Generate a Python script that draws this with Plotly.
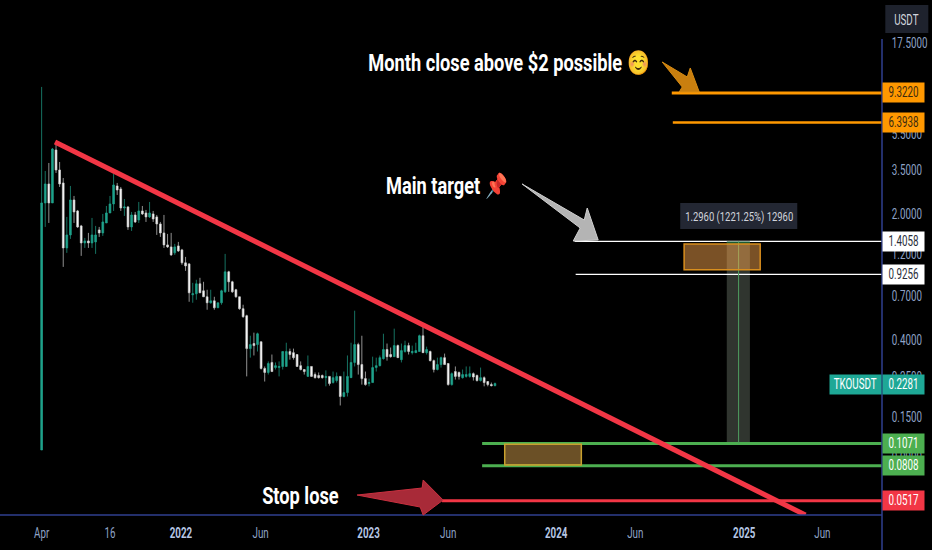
import math
import pandas as pd
import plotly.graph_objects as go

# weekly TKOUSDT candles
candle_dates = pd.date_range("2021-04-05", periods=127, freq="7D")
candle_open = [0.0987, 2.297, 2.925, 2.297, 4.51, 3.496, 2.963, 1.295, 1.528, 2.386, 2.074, 1.714, 1.38, 1.416, 1.38, 1.398, 1.629, 1.568, 1.78, 2.022, 2.268, 2.852, 2.745, 2.155, 2.182, 1.692, 1.971, 1.85, 2.074, 2.022, 1.922, 1.997, 1.922, 1.758, 1.568, 1.346, 1.312, 1.216, 1.329, 1.263, 1.071, 1.057, 0.713, 0.722, 0.82, 0.75, 0.695, 0.644, 0.66, 0.604, 0.644, 0.74, 0.955, 0.841, 0.76, 0.695, 0.597,
               0.546, 0.359, 0.383, 0.378, 0.392, 0.279, 0.265, 0.301, 0.282, 0.282, 0.286, 0.286, 0.346, 0.341, 0.333, 0.289, 0.275, 0.252, 0.286, 0.258, 0.255, 0.255, 0.248, 0.252, 0.233, 0.239, 0.252, 0.195, 0.205, 0.248, 0.301, 0.378, 0.293, 0.245, 0.23, 0.233, 0.282, 0.289, 0.316, 0.355, 0.333, 0.324, 0.373, 0.312, 0.346, 0.373, 0.341, 0.341, 0.346, 0.423, 0.341, 0.346, 0.308, 0.275, 0.293, 0.32, 0.297, 0.227, 0.268, 0.265, 0.248, 0.252, 0.252, 0.261, 0.255, 0.239, 0.248, 0.236, 0.227, 0.224]
candle_high = [10.07, 3.452, 3.822, 4.627, 4.807, 3.871, 3.157, 1.922, 2.852, 2.511, 2.101, 1.736, 1.471, 1.568, 1.897, 1.714, 1.692, 1.997, 2.21, 2.511, 3.322, 2.963, 2.815, 2.416, 2.21, 2.048, 2.048, 2.326, 2.21, 2.101, 2.326, 2.074, 1.971, 1.803, 1.971, 1.548, 1.568, 1.363, 1.398, 1.279, 1.155, 1.057, 0.83, 0.863, 0.885, 0.841, 0.76, 0.76, 0.695, 0.644, 0.76, 1.2, 0.967, 0.852, 0.769, 0.695, 0.628,
               0.553, 0.423, 0.44, 0.44, 0.392, 0.286, 0.305, 0.333, 0.301, 0.305, 0.346, 0.387, 0.359, 0.359, 0.333, 0.305, 0.275, 0.329, 0.286, 0.265, 0.265, 0.258, 0.272, 0.252, 0.268, 0.265, 0.252, 0.268, 0.329, 0.387, 0.582, 0.387, 0.423, 0.268, 0.245, 0.324, 0.32, 0.329, 0.434, 0.383, 0.364, 0.463, 0.378, 0.383, 0.397, 0.387, 0.373, 0.387, 0.429, 0.475, 0.368, 0.35, 0.312, 0.32, 0.324, 0.337, 0.297, 0.265, 0.286, 0.268, 0.275, 0.286, 0.286, 0.265, 0.258, 0.282, 0.252, 0.236, 0.233, 0.233]
candle_low = [0.0987, 1.692, 1.78, 2.297, 3.365, 2.815, 1.017, 1.216, 1.453, 1.78, 1.671, 1.17, 1.295, 1.295, 1.295, 1.2, 1.49, 1.509, 1.78, 2.022, 2.074, 2.543, 2.074, 1.946, 1.629, 1.608, 1.78, 1.78, 1.971, 1.803, 1.897, 1.803, 1.528, 1.49, 1.295, 1.295, 1.17, 1.185, 1.231, 1.044, 0.967, 0.652, 0.644, 0.669, 0.731, 0.695, 0.589, 0.636, 0.589, 0.604, 0.628, 0.731, 0.74, 0.731, 0.686, 0.589, 0.532,
              0.252, 0.32, 0.329, 0.346, 0.275, 0.236, 0.258, 0.268, 0.275, 0.252, 0.275, 0.286, 0.312, 0.312, 0.286, 0.272, 0.258, 0.252, 0.252, 0.245, 0.245, 0.245, 0.222, 0.224, 0.23, 0.233, 0.174, 0.193, 0.195, 0.248, 0.286, 0.258, 0.227, 0.224, 0.222, 0.233, 0.268, 0.286, 0.312, 0.308, 0.32, 0.324, 0.32, 0.301, 0.341, 0.333, 0.333, 0.341, 0.346, 0.341, 0.333, 0.305, 0.265, 0.272, 0.282, 0.293, 0.224, 0.224, 0.242, 0.242, 0.245, 0.248, 0.248, 0.239, 0.236, 0.236, 0.222, 0.222, 0.222, 0.222]
candle_close = [2.297, 2.925, 2.297, 4.568, 3.496, 2.925, 1.295, 1.528, 2.386, 2.048, 1.692, 1.38, 1.416, 1.38, 1.528, 1.528, 1.568, 1.803, 2.022, 2.268, 2.888, 2.71, 2.155, 2.182, 1.692, 1.971, 1.803, 2.074, 1.997, 1.922, 2.022, 1.873, 1.758, 1.568, 1.346, 1.312, 1.185, 1.312, 1.247, 1.071, 1.03, 0.731, 0.722, 0.82, 0.731, 0.695, 0.644, 0.66, 0.604, 0.644, 0.75, 0.955, 0.841, 0.74, 0.695, 0.597, 0.539,
                0.359, 0.378, 0.373, 0.434, 0.279, 0.265, 0.297, 0.268, 0.289, 0.286, 0.346, 0.346, 0.333, 0.32, 0.286, 0.275, 0.268, 0.286, 0.252, 0.248, 0.248, 0.248, 0.252, 0.23, 0.248, 0.252, 0.195, 0.205, 0.252, 0.301, 0.378, 0.293, 0.245, 0.227, 0.233, 0.282, 0.289, 0.32, 0.355, 0.324, 0.324, 0.373, 0.32, 0.35, 0.373, 0.346, 0.346, 0.35, 0.423, 0.341, 0.355, 0.308, 0.275, 0.293, 0.32, 0.293, 0.227, 0.261, 0.252, 0.252, 0.258, 0.258, 0.261, 0.25, 0.239, 0.248, 0.233, 0.227, 0.224, 0.23]

x_tick_dates = ["2021-04-05", "2021-08-16", "2022-01-01", "2022-06-05", "2023-01-01", "2023-06-05", "2024-01-01", "2024-06-03", "2025-01-01", "2025-06-02"]
x_tick_names = ["Apr", "16", "2022", "Jun", "2023", "Jun", "2024", "Jun", "2025", "Jun"]
y_tick_prices = [17.5, 5.5, 3.5, 2.0, 1.2, 0.7, 0.4, 0.25, 0.15, 0.09]

level_prices = [9.322, 6.3938, 1.4058, 0.9256, 0.1071, 0.0808, 0.0517]
level_starts = ["2024-08-13", "2024-08-15", "2024-02-06", "2024-02-08", "2023-08-10", "2023-08-10", "2023-05-24"]
level_colors = ["#ff9800", "#ff9800", "#ffffff", "#ffffff", "#4caf50", "#4caf50", "#f23645"]
level_widths = [3, 2.5, 1.2, 1.2, 3, 3, 3]
level_text_colors = ["#3a2a10", "#3a2a10", "#2a2e39", "#2a2e39", "#ffffff", "#ffffff", "#ffffff"]

trend_dates = ["2021-05-01", "2025-04-30"]
trend_prices = [4.994, 0.0431]
last_price = 0.2281

RIGHT_EDGE = "2025-09-26"
BLUE_LINE = "#2f3f8f"
FONT = "Roboto"
PLOT_W = 881.7
PLOT_H = 515.0

# no page margin, and the screenshot's text is squeezed sideways
SQUEEZE_JS = """
document.body.style.margin = '0';
document.body.style.background = '#000';
document.querySelectorAll('.xtick text, .ytick text, .annotation-text').forEach(function (t) {
    var squeeze = parseFloat(t.style.fontSize) >= 20 ? 0.76 : 0.7;
    var x = parseFloat(t.getAttribute('x')) || 0;
    var old = t.getAttribute('transform') || '';
    t.removeAttribute('clip-path');
    t.setAttribute('transform', old + ' translate(' + x + ' 0) scale(' + squeeze + ' 1) translate(' + (-x) + ' 0)');
});
"""


def px_x(px):
    return px / PLOT_W


def px_y(py):
    return 1 - py / PLOT_H


def polygon(points, fill, edge):
    # arrows are drawn by hand, in page pixels
    path = "M " + " L ".join(f"{px_x(a):.4f},{px_y(b):.4f}" for a, b in points) + " Z"
    return dict(type="path", xref="paper", yref="paper", path=path, fillcolor=fill,
                line=dict(color=edge, width=1))


fig = go.Figure()

for price, start, color, width in zip(level_prices, level_starts, level_colors, level_widths):
    fig.add_trace(go.Scatter(x=[start, RIGHT_EDGE], y=[price, price], mode="lines",
                             line=dict(color=color, width=width), hoverinfo="skip"))

fig.add_trace(go.Scatter(x=trend_dates, y=trend_prices, mode="lines",
                         line=dict(color="#f23645", width=5), hoverinfo="skip"))

fig.add_trace(go.Candlestick(x=candle_dates, open=candle_open, high=candle_high, low=candle_low, close=candle_close,
                             whiskerwidth=0,
                             increasing=dict(line=dict(color="#1fa38c", width=0.7), fillcolor="#1fa38c"),
                             decreasing=dict(line=dict(color="#d0d0d0", width=0.7), fillcolor="#ffffff")))

shapes = [
    # measure band with its centre line
    dict(type="rect", x0="2024-11-28", x1="2025-01-12", y0=0.1071, y1=1.4058, fillcolor="#30352f", line_width=0, layer="below"),
    dict(type="rect", x0="2024-11-28", x1="2025-01-12", y0=1.363, y1=1.4058, fillcolor="#1a5a33", line_width=0),
    dict(type="line", x0="2024-12-21", x1="2024-12-21", y0=0.1071, y1=1.4058, line=dict(color="#4f9e5f", width=1)),
    # target and entry boxes
    dict(type="rect", x0="2024-09-06", x1="2025-02-01", y0=0.979, y1=1.363, fillcolor="rgba(255,170,80,0.48)",
         line=dict(color="#d98f1e", width=1.5)),
    dict(type="rect", x0="2023-09-23", x1="2024-02-19", y0=0.0816, y1=0.1060, fillcolor="rgba(255,190,90,0.42)",
         line=dict(color="#c9a12e", width=1.5)),
    # axis frame
    dict(type="line", xref="paper", yref="paper", x0=0, x1=1, y0=0, y1=0, line=dict(color=BLUE_LINE, width=1.5)),
    dict(type="line", xref="paper", yref="paper", x0=1, x1=1, y0=px_y(39), y1=px_y(550), line=dict(color=BLUE_LINE, width=1.5)),
    # USDT button and the measure label
    dict(type="rect", xref="paper", yref="paper", x0=px_x(885), x1=px_x(928), y0=px_y(5), y1=px_y(33), fillcolor="#1e222d", line_width=0),
    dict(type="rect", xref="paper", yref="paper", x0=px_x(680), x1=px_x(797), y0=px_y(203), y1=px_y(229), fillcolor="#232733", line_width=0),
    polygon([(662, 62), (687, 77), (690, 68), (699, 92), (679, 92), (682, 87)], "#c97f0f", "#d98c12"),
    polygon([(522, 184), (584, 220), (587, 208), (598, 240), (573, 241), (580, 228)], "#b4b4b4", "#d0d0d0"),
    polygon([(357, 495), (422, 488), (423, 480), (443, 500), (423, 515), (420, 507)], "#a82a38", "#c9303f"),
]

annotations = []


def page_text(px, py, text, size, color="#ffffff", bold=False):
    annotations.append(dict(xref="paper", yref="paper", x=px_x(px), y=px_y(py), xanchor="center", yanchor="middle",
                            text=f"<b>{text}</b>" if bold else text, showarrow=False,
                            font=dict(family=FONT, size=size, color=color)))


def price_label(price, text, fill, text_color, box_width=41, anchor="left"):
    annotations.append(dict(xref="paper", yref="y", x=1, y=math.log10(price), xanchor=anchor, yanchor="middle",
                            text=text, showarrow=False, bgcolor=fill, width=box_width, height=19, borderpad=0,
                            font=dict(family=FONT, size=14, color=text_color)))


for price, color, text_color in zip(level_prices, level_colors, level_text_colors):
    price_label(price, f"{price:.4f}", color, text_color)

price_label(last_price, f"{last_price:.4f}", "#1ea896", "#ffffff")
price_label(last_price, "TKOUSDT", "#1ea896", "#ffffff", box_width=51, anchor="right")

page_text(906.5, 19.5, "USDT", 14, color="#d1d4dc")
page_text(739, 216, "1.2960 (1221.25%) 12960", 13.5, color="#d1d4dc")
page_text(509, 63, "Month close above $2 possible ☺️", 24, bold=True)
page_text(447, 185, "Main target 📌", 24, bold=True)
page_text(300.5, 496, "Stop lose", 24, bold=True)

fig.update_layout(
    width=932, height=550, autosize=False,
    margin=dict(l=0, r=50.3, t=0, b=35),
    paper_bgcolor="#000000", plot_bgcolor="#000000",
    showlegend=False, shapes=shapes, annotations=annotations,
    font=dict(family=FONT, size=14, color="#8fa3c7"),
)
tick_text = [f"<b><span style='color:#b5c6e4'>{t}</span></b>" if t.startswith("20") else t for t in x_tick_names]
fig.update_xaxes(type="date", range=["2021-01-14", RIGHT_EDGE], tickvals=x_tick_dates, ticktext=tick_text,
                 showgrid=False, zeroline=False, showline=False, ticks="outside", ticklen=5, automargin=False,
                 tickcolor="rgba(0,0,0,0)", rangeslider_visible=False)
fig.update_yaxes(type="log", range=[-1.3655, 1.484], side="right", tickvals=y_tick_prices,
                 ticktext=[f"{p:.4f}" for p in y_tick_prices],
                 showgrid=False, zeroline=False, showline=False, ticks="outside", ticklen=6, automargin=False,
                 tickcolor="rgba(0,0,0,0)")

fig.write_html("out.html", post_script=SQUEEZE_JS, config=dict(displayModeBar=False))
